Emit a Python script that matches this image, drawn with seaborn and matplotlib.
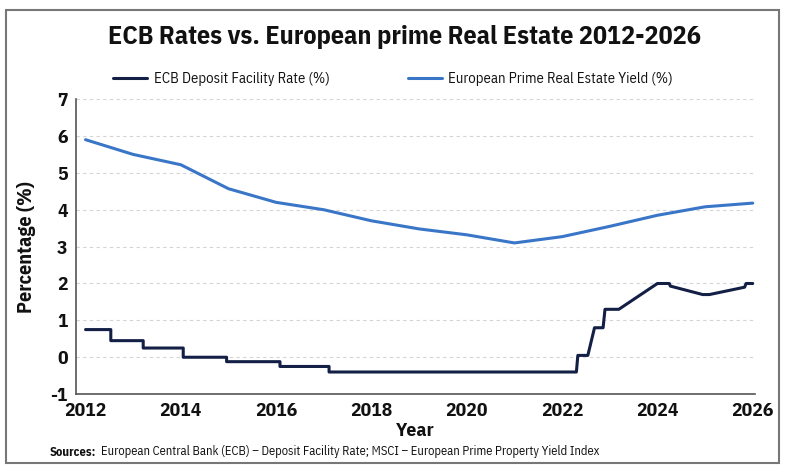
import matplotlib
matplotlib.use("Agg")
import matplotlib.pyplot as plt
import seaborn as sns
import pandas as pd
from matplotlib.patches import Rectangle

# ECB deposit facility rate (%) (duplicate years = steps)
ecb_years = [2012.0, 2012.53, 2012.53, 2013.21, 2013.21, 2014.05, 2014.05,
             2014.96, 2014.96, 2016.08, 2016.08, 2017.11, 2017.11, 2022.3,
             2022.33, 2022.54, 2022.68, 2022.86, 2022.9, 2023.19, 2024.0,
             2024.25, 2024.27, 2024.95, 2025.09, 2025.83, 2025.86, 2026.0]
ecb_rate = [0.75, 0.75, 0.45, 0.45, 0.25, 0.25, 0.0, 0.0, -0.12, -0.12,
            -0.25, -0.25, -0.4, -0.4, 0.05, 0.05, 0.8, 0.8, 1.3, 1.3, 2.0,
            2.0, 1.93, 1.7, 1.7, 1.9, 2.0, 2.0]

# European prime real estate yield (%)
yield_years = list(range(2012, 2027))
prime_yield = [5.9, 5.5, 5.22, 4.57, 4.2, 4.0, 3.7, 3.48, 3.32, 3.1, 3.27,
               3.55, 3.85, 4.08, 4.18]

x_ticks = list(range(2012, 2027, 2))
y_ticks = list(range(-1, 8))

ecb_label = "ECB Deposit Facility Rate (%)"
yield_label = "European Prime Real Estate Yield (%)"

sns.set_style("white")
plt.rcParams["font.family"] = ["IBM Plex Sans Condensed", "DejaVu Sans"]
plt.rcParams["text.color"] = "#111111"

fig = plt.figure(figsize=(7.86, 4.72), dpi=100)
ax = fig.add_axes([0.0967, 0.165, 0.864, 0.625])

ecb_df = pd.DataFrame({"year": ecb_years, "rate": ecb_rate})
yield_df = pd.DataFrame({"year": yield_years, "rate": prime_yield})

sns.lineplot(data=ecb_df, x="year", y="rate", estimator=None, sort=False,
             color="#141f45", linewidth=2.2, label=ecb_label, ax=ax)
sns.lineplot(data=yield_df, x="year", y="rate", estimator=None, sort=False,
             color="#3a76c8", linewidth=2.2, label=yield_label, ax=ax)

ax.set_xlim(2011.8, 2026.05)
ax.set_ylim(-1, 7)
ax.set_xticks(x_ticks)
ax.set_yticks(y_ticks)
ax.set_xticklabels([str(t) for t in x_ticks], fontsize=14, fontweight="bold",
                   color="#111111")
ax.set_yticklabels([str(t) for t in y_ticks], fontsize=14, fontweight="bold",
                   color="#111111")
ax.tick_params(axis="both", length=4, width=1, color="#555555", pad=2)
ax.yaxis.grid(True, linestyle=(0, (3, 3)), color="#d4d4d4", linewidth=0.8)
ax.xaxis.grid(False)
sns.despine(ax=ax)
for s in ("left", "bottom"):
    ax.spines[s].set_color("#555555")
    ax.spines[s].set_linewidth(1.2)

ax.set_xlabel("Year", fontsize=14, fontweight="bold", labelpad=1,
              color="#111111")
ax.set_ylabel("Percentage (%)", fontsize=14.5, fontweight="bold", labelpad=10,
              color="#111111")

ax.legend(loc="lower center", bbox_to_anchor=(0.467, 1.0), ncol=2,
          frameon=False, fontsize=10.6, handlelength=2.3, columnspacing=5.3,
          handletextpad=0.45, borderaxespad=0.5)

fig.text(0.514, 0.922, "ECB Rates vs. European prime Real Estate 2012-2026",
         ha="center", va="center", fontsize=18.8, fontweight="bold")

src = fig.text(50 / 786, 1 - 452 / 472, "Sources:", fontsize=9,
               fontweight="bold", va="center")
fig.canvas.draw()
bb = src.get_window_extent(fig.canvas.get_renderer())
fig.text((bb.x1 + 5) / 786, 1 - 452 / 472,
         "European Central Bank (ECB) \u2013 Deposit Facility Rate; MSCI \u2013 "
         "European Prime Property Yield Index", fontsize=9, va="center")

fig.patches.append(Rectangle((6 / 786, 9 / 472), 773 / 786, 453 / 472,
                             transform=fig.transFigure, fill=False,
                             edgecolor="#777777", linewidth=1.5))

fig.savefig("out.png", dpi=100)
